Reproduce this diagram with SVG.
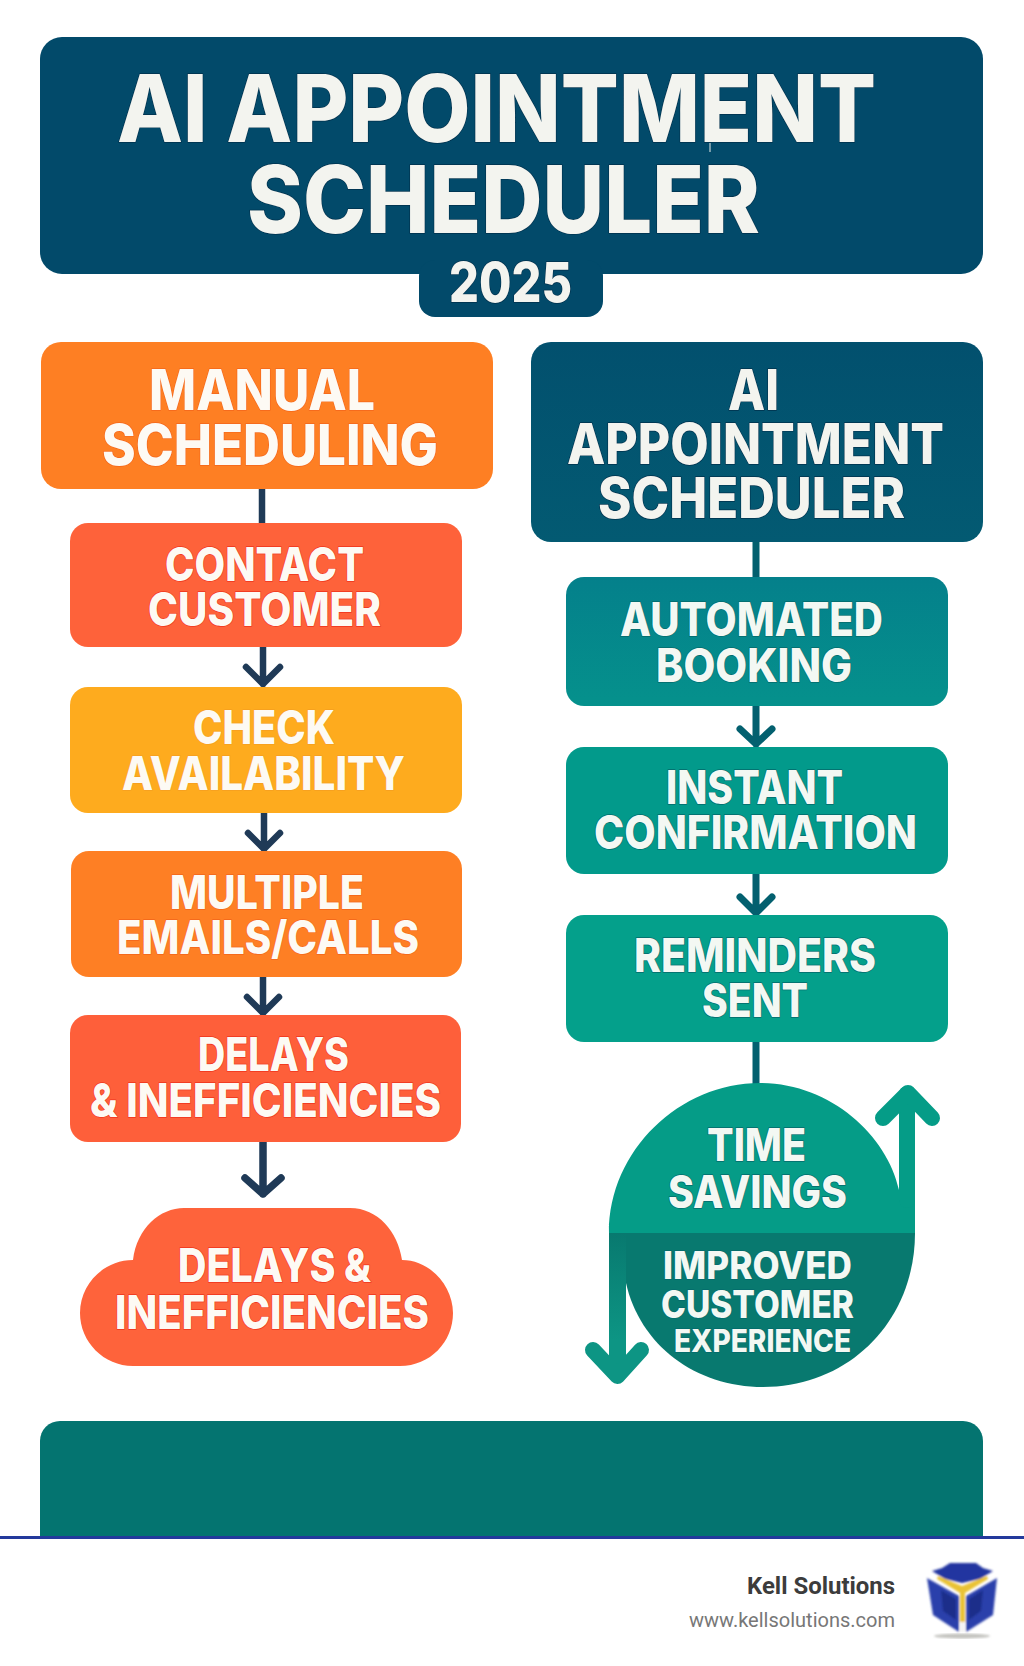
<svg xmlns="http://www.w3.org/2000/svg" width="1024" height="1666" viewBox="0 0 1024 1666">
<defs>
<linearGradient id="gAuto" x1="0" y1="0" x2="0" y2="1"><stop offset="0" stop-color="#04808b"/><stop offset="1" stop-color="#05918c"/></linearGradient>
<linearGradient id="gAi" x1="0" y1="0" x2="0" y2="1"><stop offset="0" stop-color="#02506e"/><stop offset="1" stop-color="#035a72"/></linearGradient>
<linearGradient id="gDn" gradientUnits="userSpaceOnUse" x1="0" y1="1233" x2="0" y2="1340"><stop offset="0" stop-color="#08796f"/><stop offset="1" stop-color="#0d9584"/></linearGradient>
<filter id="soft" x="-10%" y="-10%" width="120%" height="120%"><feGaussianBlur stdDeviation="1"/></filter>
</defs>
<style>
.t{font-family:Inter,"Open Sans","Liberation Sans",sans-serif;font-weight:800;fill:#fdfaf4;paint-order:stroke;stroke-width:1.4px;stroke-linejoin:round}
.or{stroke:#f4661a}.rd{stroke:#f0341c}.yl{stroke:#f6a020}
.nv{fill:#f3f4ef;stroke:#01304c}.tl{fill:#f3f8f3;stroke:#046b6c}
.f34{font-size:46px}.f41{font-size:56px}
.dark{fill:none;stroke:#1f3a57;stroke-width:6.5;stroke-linecap:round;stroke-linejoin:round}
.teal{fill:none;stroke:#03606f;stroke-width:7;stroke-linecap:round;stroke-linejoin:round}
.bigup{fill:none;stroke:#059c87;stroke-width:16;stroke-linejoin:round}
.bigdn{fill:none;stroke:#0d9584;stroke-width:16;stroke-linejoin:round}
</style>
<rect width="1024" height="1666" fill="#ffffff"/>

<g id="connectors">
<path class="dark" d="M262 489V523" style="stroke-linecap:butt"/>
<path class="dark" d="M263 647V684M246 667L263 684L280 667"/>
<path class="dark" d="M264 813V849M248 833L264 849L280 833"/>
<path class="dark" d="M263 977V1013M247 997L263 1013L279 997"/>
<path class="dark" style="stroke-width:7.500" d="M263 1142V1194M245 1178L263 1194L281 1178"/>
<path class="teal" style="stroke-linecap:butt" d="M756 542V577"/>
<path class="teal" d="M756 706V744M740 729L756 744L772 729"/>
<path class="teal" d="M756 874V913M740 897L756 913L772 897"/>
<path class="teal" style="stroke-linecap:butt" d="M756 1042V1084"/>
</g>

<g id="header">
<rect x="40" y="37" width="943" height="237" rx="22" fill="#024a6a"/>
<rect x="419" y="260" width="184" height="57" rx="16" fill="#024a6a"/>
<text class="t nv" font-size="94" x="117" y="142" textLength="759" lengthAdjust="spacingAndGlyphs">AI APPOINTMENT</text>
<rect x="709.500" y="143" width="1" height="9" fill="#e8ecea"/>
<text class="t nv" font-size="94" x="247" y="233" textLength="513" lengthAdjust="spacingAndGlyphs">SCHEDULER</text>
<text class="t nv" font-size="55" x="449" y="302" textLength="123" lengthAdjust="spacingAndGlyphs">2025</text>
</g>

<g id="manual-scheduling">
<rect x="41" y="342" width="452" height="147" rx="20" fill="#fe7f23"/>
<text class="t or f41" x="149" y="410" textLength="226" lengthAdjust="spacingAndGlyphs">MANUAL</text>
<text class="t or f41" x="102" y="465" textLength="336" lengthAdjust="spacingAndGlyphs">SCHEDULING</text>
</g>
<g id="contact-customer">
<rect x="70" y="523" width="392" height="124" rx="18" fill="#fe623a"/>
<text class="t rd f34" x="165" y="581" textLength="199" lengthAdjust="spacingAndGlyphs">CONTACT</text>
<text class="t rd f34" x="148" y="626" textLength="233" lengthAdjust="spacingAndGlyphs">CUSTOMER</text>
</g>
<g id="check-availability">
<rect x="70" y="687" width="392" height="126" rx="18" fill="#feab1e"/>
<text class="t yl f34" x="193" y="744" textLength="142" lengthAdjust="spacingAndGlyphs">CHECK</text>
<text class="t yl f34" x="122" y="790" textLength="283" lengthAdjust="spacingAndGlyphs">AVAILABILITY</text>
</g>
<g id="multiple-emails">
<rect x="71" y="851" width="391" height="126" rx="18" fill="#fe7f24"/>
<text class="t or f34" x="170" y="909" textLength="194" lengthAdjust="spacingAndGlyphs">MULTIPLE</text>
<text class="t or f34" x="117" y="954" textLength="302" lengthAdjust="spacingAndGlyphs">EMAILS/CALLS</text>
</g>
<g id="delays">
<rect x="70" y="1015" width="391" height="127" rx="18" fill="#fe5f3a"/>
<text class="t rd f34" x="198" y="1071" textLength="151" lengthAdjust="spacingAndGlyphs">DELAYS</text>
<text class="t rd f34" x="90" y="1117" textLength="351" lengthAdjust="spacingAndGlyphs">&amp; INEFFICIENCIES</text>
</g>
<g id="delays-cloud">
<path fill="#fe633b" d="M133 1260C137 1228 160 1208 184 1208H350C378 1208 398 1232 402 1260C430 1260 453 1286 453 1313C453 1342 430 1366 400 1366H133C104 1366 80 1342 80 1313C80 1284 104 1260 133 1260Z"/>
<text class="t rd f34" x="178" y="1282" textLength="193" lengthAdjust="spacingAndGlyphs">DELAYS &amp;</text>
<text class="t rd f34" x="115" y="1329" textLength="314" lengthAdjust="spacingAndGlyphs">INEFFICIENCIES</text>
</g>

<g id="ai-scheduler">
<rect x="531" y="342" width="452" height="200" rx="20" fill="url(#gAi)"/>
<text class="t nv f41" x="728" y="410" textLength="51" lengthAdjust="spacingAndGlyphs">AI</text>
<text class="t nv f41" x="567" y="464" textLength="377" lengthAdjust="spacingAndGlyphs">APPOINTMENT</text>
<text class="t nv f41" x="598" y="518" textLength="307" lengthAdjust="spacingAndGlyphs">SCHEDULER</text>
</g>
<g id="automated-booking">
<rect x="566" y="577" width="382" height="129" rx="18" fill="url(#gAuto)"/>
<text class="t tl f34" x="620" y="636" textLength="263" lengthAdjust="spacingAndGlyphs">AUTOMATED</text>
<text class="t tl f34" x="656" y="682" textLength="196" lengthAdjust="spacingAndGlyphs">BOOKING</text>
</g>
<g id="instant-confirmation">
<rect x="566" y="747" width="382" height="127" rx="18" fill="#029a8b"/>
<text class="t tl f34" x="666" y="804" textLength="177" lengthAdjust="spacingAndGlyphs">INSTANT</text>
<text class="t tl f34" x="594" y="849" textLength="323" lengthAdjust="spacingAndGlyphs">CONFIRMATION</text>
</g>
<g id="reminders-sent">
<rect x="566" y="915" width="382" height="127" rx="18" fill="#04a08b"/>
<text class="t tl f34" x="634" y="972" textLength="242" lengthAdjust="spacingAndGlyphs">REMINDERS</text>
<text class="t tl f34" x="702" y="1017" textLength="106" lengthAdjust="spacingAndGlyphs">SENT</text>
</g>

<g id="outcomes">
<path fill="#08796f" d="M626 1233H915C915 1320 850 1387 763 1387C695 1387 640 1345 626 1283Z"/>
<path fill="#059c87" d="M609 1233C609 1150 680 1083 760 1083C830 1083 887 1135 899 1190V1100H915V1233Z"/>
<path class="bigup" stroke-linecap="round" d="M907 1200V1094"/>
<path class="bigup" stroke-linecap="round" d="M883 1118L908 1093L932 1118"/>
<rect x="609" y="1233" width="17" height="140" fill="url(#gDn)"/>
<path class="bigdn" stroke-linecap="round" d="M593 1350L617.500 1376L641 1350"/>
<text class="t tl" font-size="45" x="707" y="1161" textLength="99" lengthAdjust="spacingAndGlyphs">TIME</text>
<text class="t tl" font-size="45" x="668" y="1208" textLength="179" lengthAdjust="spacingAndGlyphs">SAVINGS</text>
<text class="t tl" font-size="38" x="663" y="1279" textLength="189" lengthAdjust="spacingAndGlyphs">IMPROVED</text>
<text class="t tl" font-size="38" x="661" y="1318" textLength="193" lengthAdjust="spacingAndGlyphs">CUSTOMER</text>
<text class="t tl" font-size="31" x="674" y="1352" textLength="177" lengthAdjust="spacingAndGlyphs">EXPERIENCE</text>
</g>

<g id="footer-band">
<rect x="40" y="1421" width="943" height="40" rx="20" fill="#047470"/>
<rect x="40" y="1441" width="943" height="95" fill="#047470"/>
<rect x="0" y="1536" width="1024" height="3" fill="#233a9c"/>
</g>

<g id="brand">
<text x="895" y="1594" text-anchor="end" font-family="Roboto,'Liberation Sans',sans-serif" font-weight="700" font-size="24" fill="#3c3c3c" textLength="148" lengthAdjust="spacingAndGlyphs">Kell Solutions</text>
<text x="895" y="1627" text-anchor="end" font-family="Roboto,'Liberation Sans',sans-serif" font-size="20" fill="#777777" textLength="206" lengthAdjust="spacingAndGlyphs">www.kellsolutions.com</text>
<g id="logo">
<ellipse cx="962" cy="1636" rx="28" ry="2.500" fill="#c4c4c0" filter="url(#soft)"/>
<g filter="url(#soft)">
<path fill="#2435a0" d="M932 1571L942 1568L950 1563H976L983 1568L993 1571L980 1579L962 1583L945 1579Z"/>
<path fill="#2c40ab" d="M927 1578L959 1596V1632L933 1615Z"/>
<path fill="#2c40ab" d="M997 1578L966 1596V1632L993 1615Z"/>
<path fill="#1c2d8a" d="M941 1590L956 1599V1620L943 1611Z"/>
<path fill="#1c2d8a" d="M983 1590L969 1599V1620L981 1611Z"/>
<path fill="#e9c234" d="M938 1576L962 1586L987 1576L988 1579L965 1593V1622H960V1593L937 1579Z"/>
<path fill="#f4f4f4" d="M960 1622H965V1632H960Z"/>
</g>
</g>
</g>
</svg>
